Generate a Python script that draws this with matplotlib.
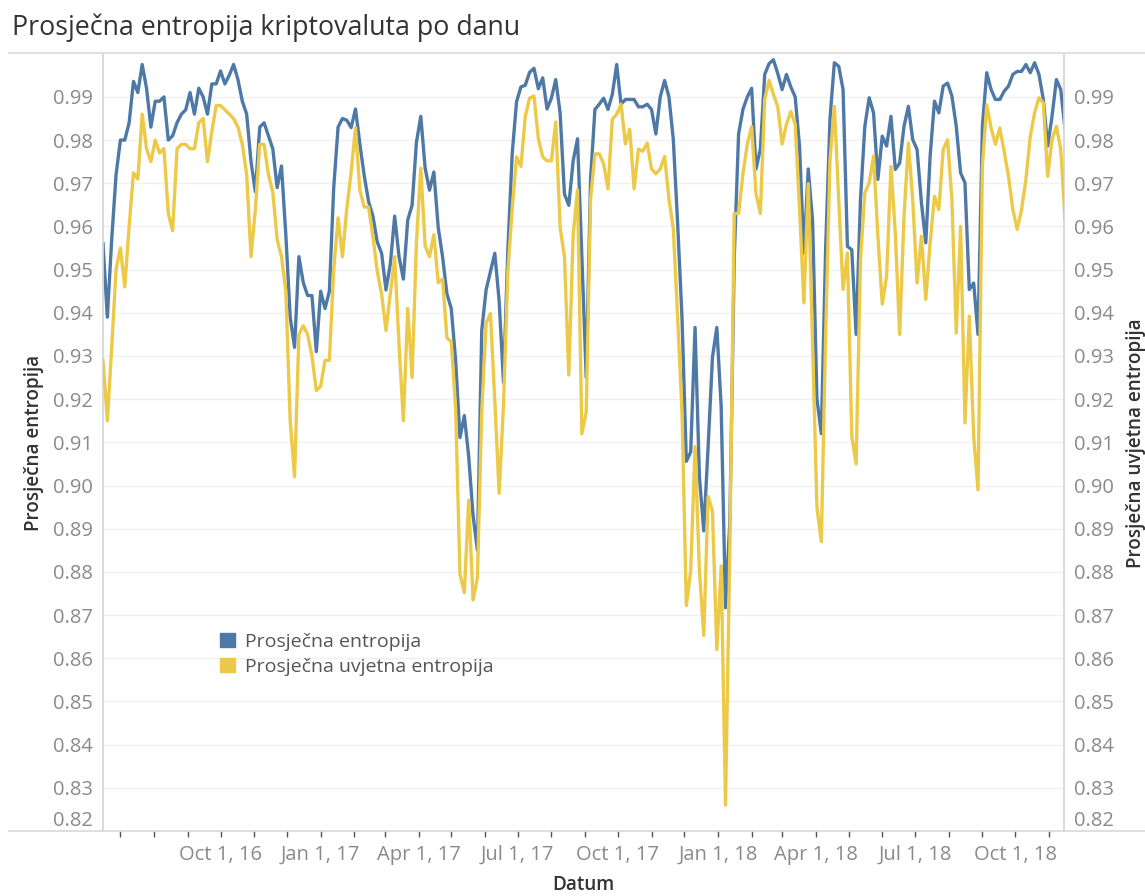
import numpy as np
import pandas as pd
import matplotlib
matplotlib.use('Agg')
import matplotlib.pyplot as plt
import matplotlib.dates as mdates
from matplotlib.patches import Patch
from matplotlib.lines import Line2D

plt.rcParams['font.family'] = ['Open Sans', 'DejaVu Sans']

# values, one every 4 days from 15 Jun 2016
start_date = '2016-06-15'
entropija = [
    0.956, 0.939, 0.957, 0.972, 0.980, 0.980, 0.984, 0.9936, 0.991, 0.9975,
    0.992, 0.983, 0.989, 0.989, 0.990, 0.980, 0.981, 0.984, 0.986, 0.987,
    0.991, 0.986, 0.992, 0.990, 0.986, 0.993, 0.993, 0.996, 0.993, 0.995,
    0.9975, 0.994, 0.989, 0.986, 0.975, 0.968, 0.983, 0.984, 0.981, 0.978,
    0.969, 0.974, 0.958, 0.939, 0.932, 0.953, 0.947, 0.944, 0.944, 0.931,
    0.945, 0.941, 0.945, 0.969, 0.983, 0.985, 0.9846, 0.9829, 0.9872, 0.9791,
    0.9718, 0.9658, 0.9624, 0.9564, 0.9538, 0.9453, 0.9513, 0.9624, 0.9530, 0.9478,
    0.9615, 0.9649, 0.9795, 0.9855, 0.9735, 0.9684, 0.9726, 0.9598, 0.9530, 0.9444,
    0.9410, 0.9290, 0.9111, 0.9162, 0.9068, 0.8931, 0.885, 0.9359, 0.9453, 0.9496,
    0.9538, 0.9427, 0.9239, 0.9547, 0.9769, 0.9889, 0.9923, 0.9927, 0.9957, 0.9966,
    0.9919, 0.9944, 0.9872, 0.9897, 0.9940, 0.9863, 0.9675, 0.9649, 0.9752, 0.9803,
    0.953, 0.925, 0.9710, 0.9871, 0.9883, 0.9897, 0.9871, 0.9906, 0.9975, 0.9883,
    0.9894, 0.9894, 0.9894, 0.9877, 0.9877, 0.9883, 0.9871, 0.9814, 0.9900, 0.9938,
    0.9900, 0.9802, 0.9607, 0.9389, 0.9056, 0.9078, 0.9366, 0.9021, 0.8895, 0.9090,
    0.9297, 0.9366, 0.9182, 0.8717, 0.8918, 0.9527, 0.9814, 0.9871, 0.9900, 0.9920,
    0.9733, 0.9779, 0.9952, 0.9977, 0.9986, 0.9954, 0.9917, 0.9952, 0.9923, 0.9900,
    0.9785, 0.9538, 0.9733, 0.9613, 0.920, 0.912, 0.955, 0.985, 0.9979, 0.9971,
    0.9917, 0.9554, 0.9546, 0.935, 0.9662, 0.9832, 0.9898, 0.9863, 0.9709, 0.9809,
    0.9786, 0.9855, 0.9732, 0.9747, 0.9832, 0.9878, 0.9801, 0.9778, 0.9655, 0.9562,
    0.9763, 0.9890, 0.9863, 0.9925, 0.9932, 0.9902, 0.9832, 0.9724, 0.9701, 0.9454,
    0.9469, 0.935, 0.9832, 0.9956, 0.9917, 0.9894, 0.9894, 0.9913, 0.9925, 0.9952,
    0.9959, 0.9959, 0.9975, 0.9956, 0.9979, 0.9952, 0.9894, 0.9786, 0.9855, 0.9940,
    0.9917, 0.9824,
]
uvjetna_entropija = [
    0.929, 0.915, 0.932, 0.950, 0.955, 0.946, 0.960, 0.9724, 0.971, 0.986,
    0.978, 0.975, 0.980, 0.977, 0.978, 0.963, 0.959, 0.978, 0.979, 0.979,
    0.978, 0.978, 0.984, 0.985, 0.975, 0.982, 0.988, 0.988, 0.987, 0.986,
    0.985, 0.983, 0.979, 0.972, 0.953, 0.964, 0.979, 0.979, 0.972, 0.968,
    0.957, 0.953, 0.945, 0.915, 0.902, 0.935, 0.937, 0.935, 0.930, 0.922,
    0.923, 0.929, 0.929, 0.950, 0.962, 0.953, 0.9641, 0.9726, 0.9829, 0.9684,
    0.9645, 0.9645, 0.9577, 0.9496, 0.9444, 0.9359, 0.9444, 0.9530, 0.9325, 0.915,
    0.9410, 0.925, 0.9564, 0.9735, 0.9555, 0.9530, 0.9581, 0.9470, 0.9478, 0.9342,
    0.9333, 0.9179, 0.8794, 0.8752, 0.8966, 0.8735, 0.8786, 0.9171, 0.9376, 0.9398,
    0.9196, 0.8982, 0.9188, 0.9496, 0.9641, 0.9761, 0.9739, 0.9855, 0.9897, 0.9902,
    0.9803, 0.9761, 0.9752, 0.9752, 0.9842, 0.9598, 0.9530, 0.9256, 0.9581, 0.9684,
    0.912, 0.917, 0.9664, 0.9768, 0.9768, 0.9745, 0.9687, 0.9848, 0.9860, 0.9883,
    0.9791, 0.9825, 0.9687, 0.9779, 0.9774, 0.9793, 0.9733, 0.9722, 0.9733, 0.9762,
    0.9664, 0.9595, 0.9389, 0.9170, 0.8722, 0.8803, 0.9090, 0.8803, 0.8653, 0.8975,
    0.8941, 0.862, 0.8814, 0.826, 0.8860, 0.9630, 0.9630, 0.9722, 0.9791, 0.9831,
    0.9676, 0.9630, 0.9894, 0.9938, 0.9906, 0.9877, 0.9791, 0.9837, 0.9866, 0.9837,
    0.9641, 0.9423, 0.9699, 0.9320, 0.895, 0.887, 0.935, 0.9755, 0.9878, 0.9662,
    0.9454, 0.9539, 0.9114, 0.905, 0.9523, 0.9678, 0.9701, 0.9763, 0.9577, 0.942,
    0.9485, 0.9739, 0.9585, 0.935, 0.9624, 0.9793, 0.9662, 0.9469, 0.9577, 0.9431,
    0.9562, 0.9670, 0.9639, 0.9778, 0.9801, 0.9662, 0.9353, 0.9600, 0.9145, 0.9392,
    0.9114, 0.899, 0.9739, 0.9882, 0.9828, 0.9790, 0.9828, 0.9774, 0.9716, 0.9639,
    0.9593, 0.9639, 0.9709, 0.9809, 0.9863, 0.9898, 0.9886, 0.9716, 0.9801, 0.9832,
    0.9778, 0.9616,
]
yticks = [0.82, 0.83, 0.84, 0.85, 0.86, 0.87, 0.88, 0.89, 0.90, 0.91,
          0.92, 0.93, 0.94, 0.95, 0.96, 0.97, 0.98, 0.99]

dates = pd.date_range(start_date, periods=len(entropija), freq='4D')

blue = '#4e79a7'
yellow = '#edc948'
grey_txt = '#8a8a8a'
line_grey = '#d9d9d9'

fig = plt.figure(figsize=(11.45, 8.96), dpi=100)
ax = fig.add_axes([103/1145, 1-831/896, (1064-103)/1145, (831-55)/896])
ax2 = ax.twinx()

ax.plot(dates, entropija, color=blue, lw=2.4, zorder=3)
ax2.plot(dates, uvjetna_entropija, color=yellow, lw=2.4, zorder=3)

ylim = (0.8203, 0.9997)
for a in (ax, ax2):
    a.set_ylim(*ylim)
    a.set_yticks(yticks)
    a.set_yticklabels(['%.2f' % v for v in yticks])
    a.tick_params(axis='y', length=0, labelsize=14.5, labelcolor=grey_txt, pad=7)
    for s in ('top', 'bottom'):
        a.spines[s].set_visible(False)
    a.spines['left'].set_color(line_grey)
    a.spines['right'].set_color(line_grey)
    a.spines['left'].set_linewidth(1.2)
    a.spines['right'].set_linewidth(1.2)
    for lab in a.get_yticklabels():
        if lab.get_text() == '0.82':
            lab.set_va('bottom')


def date_label(x, pos):
    d = mdates.num2date(x)
    # the first July tick has no label in the original
    if d.year == 2016 and d.month == 7:
        return ''
    return f"{d:%b} {d.day}, {d:%y}"


ax.grid(axis='y', color='#f0f0f0', lw=1.0, zorder=0)
ax.set_xlim(pd.Timestamp('2016-06-15'), pd.Timestamp('2018-11-15'))
ax.xaxis.set_major_locator(mdates.MonthLocator(bymonth=[1, 4, 7, 10]))
ax.xaxis.set_minor_locator(mdates.MonthLocator())
ax.xaxis.set_major_formatter(plt.FuncFormatter(date_label))
ax.tick_params(axis='x', which='both', length=4, width=1, color='#555555',
               labelsize=14.5, labelcolor=grey_txt, pad=6)

ax.set_ylabel('Prosječna entropija', fontsize=13.6, color='#333333',
              fontweight='semibold', labelpad=7)
ax2.set_ylabel('Prosječna uvjetna entropija', fontsize=13.6, color='#333333',
               fontweight='semibold', rotation=90, labelpad=9)
ax.set_xlabel('Datum', fontsize=13.6, color='#333333', fontweight='semibold',
              labelpad=7)

# title and separator lines
fig.text(12/1145, 1-28/896, 'Prosječna entropija kriptovaluta po danu',
         fontsize=19.3, color='#333333', va='center', ha='left')
fig.add_artist(Line2D([9/1145, 1], [1-53/896, 1-53/896], color='#e0e0e0', lw=1.5))
fig.add_artist(Line2D([9/1145, 1], [1-831/896, 1-831/896], color=line_grey, lw=1.2))

handles = [Patch(facecolor=blue, edgecolor=blue, label='Prosječna entropija'),
           Patch(facecolor=yellow, edgecolor=yellow, label='Prosječna uvjetna entropija')]
leg = ax2.legend(handles=handles, loc='upper left', bbox_to_anchor=(0.104, 0.278),
                 frameon=False, fontsize=14, handlelength=0.75, handleheight=0.75,
                 handletextpad=0.5, labelspacing=0.35)
for t in leg.get_texts():
    t.set_color('#555555')

fig.savefig('out.png', dpi=100)
